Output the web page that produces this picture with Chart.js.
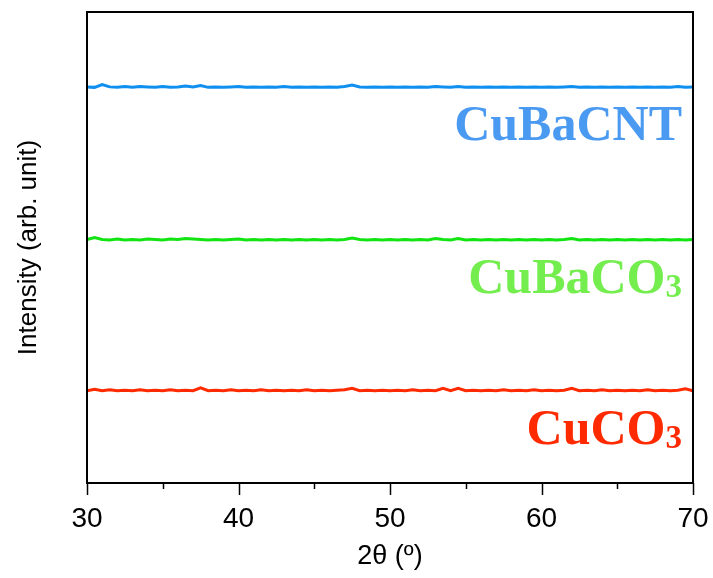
<!DOCTYPE html>
<html>
<head>
<meta charset="utf-8">
<script src="https://cdn.jsdelivr.net/npm/chart.js@4.4.1/dist/chart.umd.min.js"></script>
<style>
  html, body { margin: 0; padding: 0; background: #fff; }
  #wrap { width: 713px; height: 578px; }
</style>
</head>
<body>
<div id="wrap"><canvas id="xrd"></canvas></div>
<script>
// 2-theta positions (deg)
const twoTheta = [
  30.0, 30.5, 31.0, 31.5, 32.0, 32.5, 33.0, 33.5, 34.0, 34.5,
  35.0, 35.5, 36.0, 36.5, 37.0, 37.5, 38.0, 38.5, 39.0, 39.5,
  40.0, 40.5, 41.0, 41.5, 42.0, 42.5, 43.0, 43.5, 44.0, 44.5,
  45.0, 45.5, 46.0, 46.5, 47.0, 47.5, 48.0, 48.5, 49.0, 49.5,
  50.0, 50.5, 51.0, 51.5, 52.0, 52.5, 53.0, 53.5, 54.0, 54.5,
  55.0, 55.5, 56.0, 56.5, 57.0, 57.5, 58.0, 58.5, 59.0, 59.5,
  60.0, 60.5, 61.0, 61.5, 62.0, 62.5, 63.0, 63.5, 64.0, 64.5,
  65.0, 65.5, 66.0, 66.5, 67.0, 67.5, 68.0, 68.5, 69.0, 69.5, 70.0
];

// intensities, already stacked (arb. unit)
const cuBaCNT = [
  84.1, 84.0, 84.6, 84.1, 84.0, 84.2, 84.0, 84.2, 84.1, 84.0,
  84.2, 84.0, 84.1, 84.3, 84.1, 84.4, 84.0, 84.1, 84.0, 84.1,
  84.2, 84.0, 84.1, 84.0, 84.1, 84.0, 84.2, 84.0, 84.1, 84.0,
  84.1, 84.0, 84.1, 84.0, 84.2, 84.5, 84.1, 84.0, 84.1, 84.0,
  84.1, 84.0, 84.1, 84.0, 84.1, 84.0, 84.2, 84.1, 84.0, 84.2,
  84.0, 84.1, 84.0, 84.1, 84.0, 84.1, 84.0, 84.1, 84.0, 84.1,
  84.0, 84.1, 84.0, 84.1, 84.2, 84.0, 84.1, 84.0, 84.1, 84.0,
  84.1, 84.0, 84.1, 84.0, 84.1, 84.0, 84.1, 84.0, 84.2, 84.0, 84.1
];
const cuBaCO3 = [
  51.7, 52.1, 51.7, 51.6, 51.8, 51.6, 51.7, 51.6, 51.8, 51.7,
  51.6, 51.8, 51.7, 51.9, 51.8, 51.7, 51.6, 51.7, 51.6, 51.7,
  51.8, 51.6, 51.7, 51.6, 51.7, 51.6, 51.7, 51.6, 51.7, 51.6,
  51.7, 51.6, 51.7, 51.6, 51.7, 52.0, 51.7, 51.6, 51.7, 51.6,
  51.7, 51.6, 51.7, 51.6, 51.7, 51.6, 51.9, 51.7, 51.6, 51.9,
  51.6, 51.7, 51.6, 51.7, 51.6, 51.7, 51.6, 51.7, 51.6, 51.7,
  51.6, 51.7, 51.6, 51.7, 51.9, 51.6, 51.7, 51.6, 51.7, 51.6,
  51.7, 51.6, 51.7, 51.6, 51.7, 51.6, 51.7, 51.6, 51.7, 51.6, 51.7
];
const cuCO3 = [
  19.6, 19.9, 19.6, 19.8, 19.6, 19.7, 19.6, 19.8, 19.6, 19.7,
  19.6, 19.8, 19.6, 19.7, 19.6, 20.2, 19.6, 19.7, 19.6, 19.8,
  19.6, 19.7, 19.6, 19.8, 19.6, 19.7, 19.6, 19.7, 19.6, 19.8,
  19.6, 19.7, 19.6, 19.7, 19.8, 20.1, 19.6, 19.7, 19.6, 19.7,
  19.6, 19.7, 19.6, 19.8, 19.6, 19.7, 19.6, 20.1, 19.6, 20.1,
  19.6, 19.7, 19.6, 19.7, 19.6, 19.8, 19.6, 19.7, 19.6, 19.8,
  19.6, 19.7, 19.6, 19.7, 20.1, 19.6, 19.7, 19.6, 19.8, 19.6,
  19.7, 19.6, 19.7, 19.6, 19.8, 19.6, 19.7, 19.6, 19.7, 20.0, 19.6
];

const xTicks = [30, 35, 40, 45, 50, 55, 60, 65, 70];
const sampleNames = ['CuBaCNT', 'CuBaCO', 'CuCO'];
const sampleSubs = ['', '3', '3'];
const sampleBase = [84.0, 51.6, 19.5];

const lineColors = ['#0f8ff0', '#12e412', '#ff2a00'];
const textColors = ['#4a9af2', '#74ee4e', '#ff2a00'];

function pts(ys) {
  return twoTheta.map((x, i) => ({ x: x, y: ys[i] }));
}

// frame, outward ticks (major/minor) and sample labels
const decorations = {
  id: 'decorations',
  afterDraw(chart) {
    const ctx = chart.ctx;
    const a = chart.chartArea;
    const xs = chart.scales.x;
    const ys = chart.scales.y;
    ctx.save();
    ctx.strokeStyle = '#000';
    ctx.lineWidth = 2;
    ctx.strokeRect(a.left, a.top, a.right - a.left, a.bottom - a.top);
    ctx.lineWidth = 1.5;
    xTicks.forEach(v => {
      const px = Math.round(xs.getPixelForValue(v)) + 0.5;
      const len = v % 10 === 0 ? 12 : 6;
      ctx.beginPath();
      ctx.moveTo(px, a.bottom);
      ctx.lineTo(px, a.bottom + len);
      ctx.stroke();
    });

    const right = a.right - 11;
    sampleNames.forEach((name, i) => {
      const base = ys.getPixelForValue(sampleBase[i]) + 53;
      ctx.fillStyle = textColors[i];
      ctx.textBaseline = 'alphabetic';
      ctx.textAlign = 'left';
      ctx.font = 'bold 33px "Liberation Serif", "Times New Roman", serif';
      const subW = sampleSubs[i] ? ctx.measureText(sampleSubs[i]).width : 0;
      ctx.font = 'bold 50px "Liberation Serif", "Times New Roman", serif';
      const mainW = ctx.measureText(name).width;
      const x0 = right - subW - mainW;
      ctx.fillText(name, x0, base);
      if (sampleSubs[i]) {
        ctx.font = 'bold 33px "Liberation Serif", "Times New Roman", serif';
        ctx.fillText(sampleSubs[i], x0 + mainW, base + 4);
      }
    });
    ctx.restore();
  }
};

const ctx = document.getElementById('xrd').getContext('2d');
new Chart(ctx, {
  type: 'line',
  data: {
    datasets: [
      { label: 'CuBaCNT', data: pts(cuBaCNT), borderColor: lineColors[0] },
      { label: 'CuBaCO3', data: pts(cuBaCO3), borderColor: lineColors[1] },
      { label: 'CuCO3', data: pts(cuCO3), borderColor: lineColors[2] }
    ]
  },
  options: {
    responsive: true,
    maintainAspectRatio: false,
    animation: false,
    layout: { padding: { top: 12, right: 20, left: 0, bottom: 0 } },
    elements: {
      point: { radius: 0 },
      line: { borderWidth: 3, tension: 0 }
    },
    plugins: { legend: { display: false }, tooltip: { enabled: false } },
    scales: {
      x: {
        type: 'linear',
        min: 30,
        max: 70,
        grid: { display: false, drawTicks: false },
        border: { display: false },
        ticks: {
          stepSize: 10,
          padding: 19,
          color: '#000',
          font: { family: '"Liberation Sans", Arial, sans-serif', size: 28 },
          maxRotation: 0
        },
        title: {
          display: true,
          text: '2θ (º)',
          color: '#000',
          font: { family: '"Liberation Sans", Arial, sans-serif', size: 27 },
          padding: { top: 1, bottom: 5 }
        },
        afterFit(scale) {
          scale.height = 95;
          scale.paddingLeft = 0;
          scale.paddingRight = 0;
        }
      },
      y: {
        min: 0,
        max: 100,
        grid: { display: false, drawTicks: false },
        border: { display: false },
        ticks: { display: false },
        title: {
          display: true,
          text: 'Intensity (arb. unit)',
          color: '#000',
          font: { family: '"Liberation Sans", Arial, sans-serif', size: 26 },
          padding: { top: 13, bottom: 0 }
        },
        afterFit(scale) { scale.width = 87; }
      }
    }
  },
  plugins: [decorations]
});
</script>
</body>
</html>
